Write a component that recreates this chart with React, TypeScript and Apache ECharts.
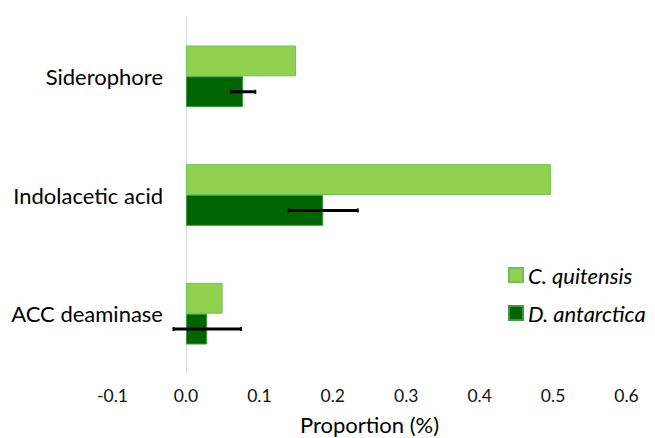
import React, { useEffect, useRef } from "react";
import * as echarts from "echarts";

const categories = ["ACC deaminase", "Indolacetic acid", "Siderophore"];
const seriesNames = ["C. quitensis", "D. antarctica"];
const quitensis = [0.05, 0.497, 0.15];
const antarctica = [0.029, 0.187, 0.078];
const antarcticaErr = [0.046, 0.047, 0.0165];
const xTicks = [-0.1, 0.6, 0.1];

const GAP = 0.48;

export default function App() {
  const ref = useRef<HTMLDivElement>(null);
  useEffect(() => {
    if (!ref.current) return;
    const chart = echarts.init(ref.current, null, { renderer: "svg" });
    const font = "Lato, 'Open Sans', sans-serif";
    const errData = antarctica.map((v, i) => [i, v, antarcticaErr[i]]);
    chart.setOption({
      animation: false,
      backgroundColor: "#ffffff",
      grid: {
        left: 112.5,
        right: 28.5,
        top: 17,
        bottom: 65,
        containLabel: false,
        outerBoundsMode: "none",
      },
      legend: {
        orient: "vertical",
        left: 503,
        top: 259,
        icon: "rect",
        itemWidth: 14,
        itemHeight: 14,
        itemGap: 16,
        data: seriesNames,
        textStyle: {
          fontFamily: font,
          fontSize: 22,
          fontStyle: "italic",
          color: "#000",
          lineHeight: 14,
        },
      },
      xAxis: {
        type: "value",
        min: xTicks[0],
        max: xTicks[1],
        interval: xTicks[2],
        name: "Proportion (%)",
        nameLocation: "middle",
        nameGap: 40,
        nameTextStyle: { fontFamily: font, fontSize: 22, color: "#000" },
        axisLine: { show: false },
        axisTick: { show: false },
        splitLine: { show: false },
        axisLabel: {
          fontFamily: font,
          fontSize: 17.5,
          color: "#111",
          margin: 13,
          formatter: (v: number) => v.toFixed(1),
        },
      },
      yAxis: {
        type: "category",
        data: categories,
        axisLine: { show: true, onZero: true, lineStyle: { color: "#d9d9d9", width: 1 } },
        axisTick: { show: false },
        axisLabel: { fontFamily: font, fontSize: 22, color: "#000", margin: -50.5 },
        splitLine: { show: false },
      },
      series: [
        {
          name: seriesNames[0],
          type: "bar",
          data: quitensis,
          barCategoryGap: GAP * 100 + "%",
          barGap: "0%",
          itemStyle: { color: "#92D050", borderColor: "#6cc25a", borderWidth: 1 },
        },
        {
          name: seriesNames[1],
          type: "bar",
          data: antarctica,
          barCategoryGap: GAP * 100 + "%",
          barGap: "0%",
          itemStyle: { color: "#006400", borderColor: "#3f9a3f", borderWidth: 1 },
        },
        {
          type: "custom",
          name: "err",
          data: errData,
          encode: { x: 1, y: 0 },
          z: 10,
          renderItem: (params: any, api: any) => {
            const cat = api.value(0);
            const v = api.value(1);
            const e = api.value(2);
            const band = api.size([0, 1])[1];
            const off = (band * (1 - GAP)) / 4;
            const p1 = api.coord([v - e, cat]);
            const p2 = api.coord([v + e, cat]);
            const y = p1[1] + off;
            const style = { stroke: "#000", lineWidth: 3 };
            return {
              type: "group",
              children: [
                { type: "line", shape: { x1: p1[0], y1: y, x2: p2[0], y2: y }, style },
                { type: "line", shape: { x1: p1[0], y1: y - 2, x2: p1[0], y2: y + 2 }, style: { stroke: "#000", lineWidth: 2 } },
                { type: "line", shape: { x1: p2[0], y1: y - 2, x2: p2[0], y2: y + 2 }, style: { stroke: "#000", lineWidth: 2 } },
              ],
            };
          },
        },
      ],
    });
    return () => chart.dispose();
  }, []);
  return <div ref={ref} style={{ width: 655, height: 438, position: "absolute", left: 0, top: 0 }} />;
}
